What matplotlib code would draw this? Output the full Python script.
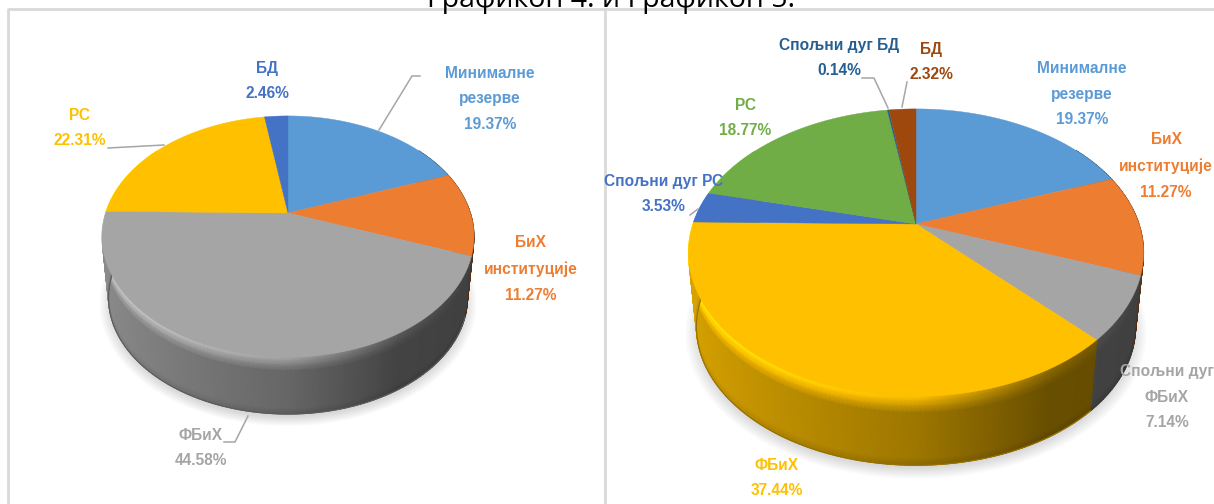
"""Two 3D style pie charts side by side (Графикон 4 и Графикон 5)."""

import numpy as np
import matplotlib
matplotlib.use("Agg")
import matplotlib.pyplot as plt

LABEL_FONT = ["Liberation Sans Narrow", "Liberation Sans", "DejaVu Sans"]

# Data
left_values = [19.37, 11.27, 44.58, 22.31, 2.46]
left_colors = ["#5B9BD5", "#ED7D31", "#A5A5A5", "#FFC000", "#4472C4"]
left_labels = ["Минималне\nрезерве\n19.37%", "БиХ\nинституције\n11.27%", "ФБиХ\n44.58%",
               "РС\n22.31%", "БД\n2.46%"]

right_values = [19.37, 11.27, 7.14, 37.44, 3.53, 18.77, 0.14, 2.32]
right_colors = ["#5B9BD5", "#ED7D31", "#A5A5A5", "#FFC000", "#4472C4", "#70AD47", "#255E91", "#9E480E"]
right_labels = ["Минималне\nрезерве\n19.37%", "БиХ\nинституције\n11.27%", "Спољни дуг\nФБиХ\n7.14%",
                "ФБиХ\n37.44%", "Спољни дуг РС\n3.53%", "РС\n18.77%", "Спољни дуг БД\n0.14%", "БД\n2.32%"]

# Layout, in pixels of the picture
left_label_pos = [(490, 99), (531, 269), (201, 448), (80, 128), (267, 81)]
right_label_pos = [(1082, 94), (1166, 166), (1167, 397), (777, 478), (664, 194), (745, 118), (839, 58), (931, 62)]
leaders = [
    [(379, 130), (412, 76), (420, 76)],
    [(108, 148), (164, 145)],
    [(248, 416), (235, 442), (224, 442)],
    [(862, 78), (874, 78), (888, 108)],
    [(907, 82), (902, 107)],
    [(690, 215), (698, 209)],
]


def project(theta, cx, cy, a, b, k, scale=1.0, drop=0.0):
    """Circle seen in perspective, theta runs clockwise from the top."""
    u, v = np.sin(theta), np.cos(theta)
    w = 1 + k * v
    return cx + scale * a * u / w, cy + drop - scale * b * v / w


def draw_pie(ax, values, colors, cx, cy, a, b, k, drop, scale=0.965):
    total = sum(values)
    edges = np.concatenate([[0], np.cumsum(values)]) / total * 2 * np.pi

    # soft shadow below the disc
    ring = np.linspace(0, 2 * np.pi, 240)
    for grow in np.linspace(1.05, 0.97, 12):
        x, y = project(ring, cx, cy, a, b, k, scale * grow, drop + 5)
        ax.fill(x, y, color="#808080", alpha=0.03, lw=0, zorder=1)

    # side wall, one smooth mesh per slice, shaded left to right
    levels = np.array([0, 0.06, 0.14, 0.24, 0.5, 0.9, 1.0])
    for start, stop, color in zip(edges[:-1], edges[1:], colors):
        th = np.linspace(start, stop, max(2, int((stop - start) * 60)))
        th = th[np.cos(th) < 0.6] if np.sum(np.cos(th) < 0.6) > 1 else None
        if th is None:
            continue
        base = np.array(matplotlib.colors.to_rgb(color))
        X, Y = [], []
        C = np.zeros((len(levels), len(th), 3))
        for i, lev in enumerate(levels):
            x, y = project(th, cx, cy, a, b, k, 1 + (scale - 1) * lev, drop * lev)
            X.append(x)
            Y.append(y)
            u = np.sin(th)
            shade = np.interp(u, [-1, 0, 0.5, 1], [0.85, 0.62, 0.41, 0.38])
            # bevel: light ridge at the top of the wall, mostly on the left
            ridge = np.clip(1 - lev / 0.24, 0, 1) * np.interp(u, [-1, 0, 0.6, 1], [0.9, 0.8, 0.2, 0.0])
            col = base[None, :] * (shade + 0.5 * ridge)[:, None]
            if lev >= 1.0:
                col = col * 0.88
            C[i] = np.clip(col, 0, 1)
        ax.pcolormesh(np.array(X), np.array(Y), C, shading="gouraud", zorder=2)
        # thin line along the bottom edge so the outline stays smooth
        x, y = project(th, cx, cy, a, b, k, scale, drop)
        ax.plot(x, y, color=np.clip(C[-1].mean(axis=0), 0, 1), lw=0.8, zorder=2)

    # top face
    for start, stop, color in zip(edges[:-1], edges[1:], colors):
        th = np.linspace(start, stop, max(2, int((stop - start) * 120)))
        x, y = project(th, cx, cy, a, b, k)
        ax.fill(np.r_[cx, x], np.r_[cy, y], color=color, lw=0.3, zorder=3)


fig = plt.figure(figsize=(12.14, 5.04), dpi=100)
ax = fig.add_axes([0, 0, 1, 1])
ax.set_xlim(0, 1214)
ax.set_ylim(504, 0)
ax.axis("off")

# Panel borders
ax.plot([8, 8, 1214], [504, 9, 9], color="#d9d9d9", lw=2, zorder=0)
ax.plot([605, 605], [9, 504], color="#d9d9d9", lw=2, zorder=0)

draw_pie(ax, left_values, left_colors, 288, 213, 182.4, 116, 0.195, 62)
draw_pie(ax, right_values, right_colors, 916, 224, 223, 138, 0.199, 75)

ax.set_xlim(0, 1214)
ax.set_ylim(504, 0)

for pts in leaders:
    xs, ys = zip(*pts)
    ax.plot(xs, ys, color="#a6a6a6", lw=1.1, zorder=4)

for labels, positions, colors in [(left_labels, left_label_pos, left_colors),
                                  (right_labels, right_label_pos, right_colors)]:
    for label, (x, y), color in zip(labels, positions, colors):
        ax.text(x, y, label, color=color, family=LABEL_FONT, fontsize=11.2, fontweight="bold",
                ha="center", va="center", linespacing=1.9, zorder=5)

ax.text(611, 7, "Графикон 4. и Графикон 5.", family="Open Sans", fontsize=20.5, color="black",
        ha="center", va="baseline", zorder=5)

fig.savefig("out.png", dpi=100)
